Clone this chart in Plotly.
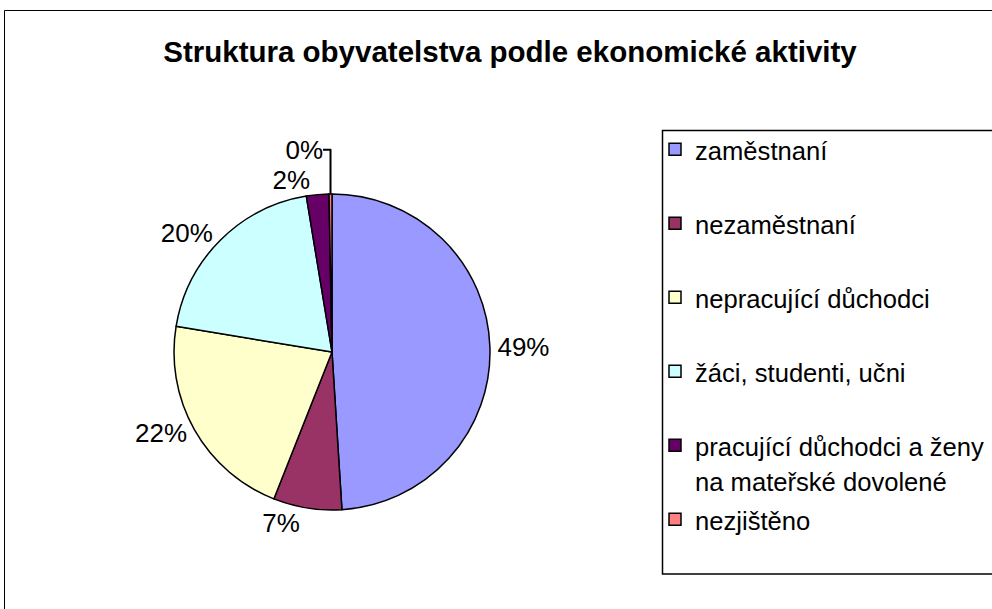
import plotly.graph_objects as go

categories = ["zaměstnaní", "nezaměstnaní", "nepracující důchodci", "žáci, studenti, učni",
              "pracující důchodci a ženy<br>na mateřské dovolené", "nezjištěno"]
values = [49.0, 7.0, 21.6, 19.8, 2.3, 0.3]
colors = ["#9999FF", "#993366", "#FFFFCC", "#CCFFFF", "#660066", "#FF8080"]
title = "Struktura obyvatelstva podle ekonomické aktivity"

W, H = 992, 609


def legend_text(c):
    lines = c.split("<br>")
    if len(lines) == 1:
        lines.append(" ")
    return "<br>".join("<span style='font-size:25.6px'>%s</span>" % ln for ln in lines)


legend_labels = [legend_text(c) for c in categories]

R = 158
fig = go.Figure(go.Pie(
    labels=legend_labels,
    values=values,
    marker=dict(colors=colors, line=dict(color="black", width=1.5)),
    sort=False,
    direction="clockwise",
    rotation=0,
    textposition="outside",
    texttemplate="%{percent:.0%}",
    textfont=dict(family="Liberation Sans", size=26, color="black"),
    domain=dict(x=[(332 - R) / W, (332 + R) / W], y=[1 - (352 + R) / H, 1 - (352 - R) / H]),
    showlegend=True,
))

fig.update_layout(
    width=W, height=H,
    margin=dict(l=0, r=0, t=0, b=0),
    paper_bgcolor="white",
    plot_bgcolor="white",
    title=dict(text="<b>" + title + "</b>", x=510 / W, xanchor="center", y=1 - 52 / H, yanchor="middle",
               font=dict(family="Liberation Sans", size=29.5, color="black")),
    legend=dict(x=655 / W, y=1 - 125 / H, xanchor="left", yanchor="top", valign="top",
                font=dict(family="Liberation Sans", size=27.3, color="black"),
                bgcolor="rgba(0,0,0,0)", borderwidth=0),
    shapes=[
        dict(type="rect", xref="paper", yref="paper", x0=4.5 / W, x1=1.02, y0=-0.02, y1=1 - 10.5 / H,
             line=dict(color="black", width=1), fillcolor="rgba(0,0,0,0)"),
        dict(type="rect", xref="paper", yref="paper", x0=662.5 / W, x1=1.02, y0=1 - 574 / H, y1=1 - 130.5 / H,
             line=dict(color="black", width=1.5), fillcolor="rgba(0,0,0,0)"),
    ],
)

fig.write_html("out.html", config={"displayModeBar": False},
               post_script="document.body.style.margin='0px';")
